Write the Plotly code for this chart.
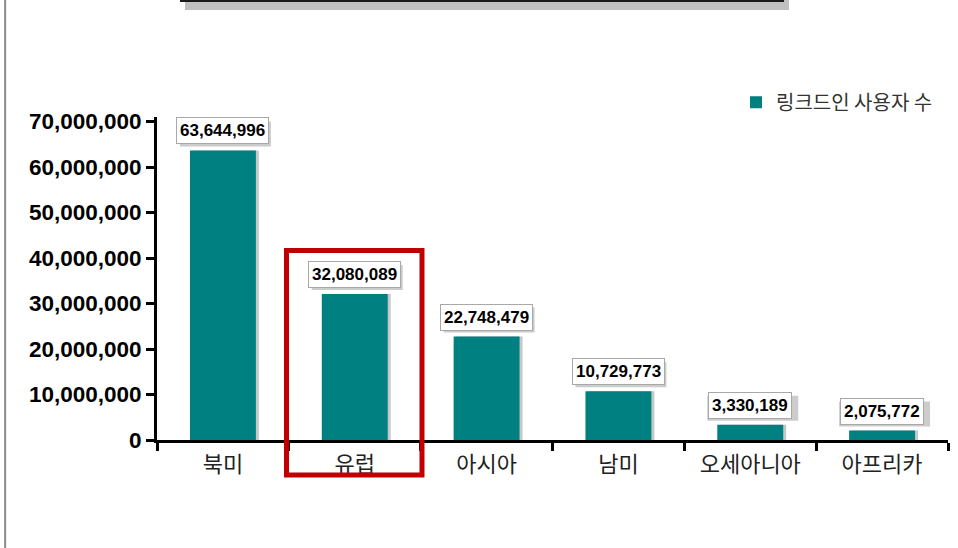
import plotly.graph_objects as go

regions = ["북미", "유럽", "아시아", "남미", "오세아니아", "아프리카"]
users = [63644996, 32080089, 22748479, 10729773, 3330189, 2075772]
series_name = "링크드인 사용자 수"
y_ticks = [0, 10000000, 20000000, 30000000, 40000000, 50000000, 60000000, 70000000]

TEAL = "#008080"
KFONT = "Noto Sans CJK KR"
AFONT = "Liberation Sans, Arial, sans-serif"

fig = go.Figure()

# soft shadow behind bars
fig.add_trace(go.Bar(
    x=regions, y=users, width=0.5, offset=-0.25 + 3 / 131.8,
    marker=dict(color="rgba(0,0,0,0.22)", line=dict(width=0)),
    showlegend=False, hoverinfo="skip",
))
fig.add_trace(go.Bar(
    x=regions, y=users, width=0.5, offset=-0.25,
    name=series_name,
    marker=dict(color=TEAL, line=dict(width=0)),
))

annotations = []
shapes = []
for i, (r, v) in enumerate(zip(regions, users)):
    label = f"{v:,}"
    annotations.append(dict(
        x=r, y=v, xref="x", yref="y", text=label, showarrow=False,
        yanchor="bottom", yshift=6,
        font=dict(family=AFONT, size=17, color="#000", weight="bold"),
        bgcolor="white", bordercolor="#a8a8a8", borderwidth=1, borderpad=3,
    ))
    # drop shadow of the value box (pixel-sized, anchored at the bar top)
    shapes.append(dict(
        type="rect", xref="x", yref="y", layer="above",
        xsizemode="pixel", ysizemode="pixel", xanchor=i, yanchor=v,
        x0=-43, x1=48, y0=4, y1=29,
        fillcolor="#cccccc", line=dict(width=0),
    ))

shapes += [
    dict(type="line", xref="paper", yref="paper", x0=-0.192, x1=-0.192, y0=-0.34, y1=1.37,
         line=dict(color="#8c8c8c", width=2)),
    dict(type="rect", xref="paper", yref="paper", x0=0.0354, x1=0.799, y0=1.331, y1=1.38,
         fillcolor="#c0c0c0", line=dict(width=0), layer="below"),
    dict(type="rect", xref="paper", yref="paper", x0=0.0291, x1=0.7927, y0=1.356, y1=1.38,
         fillcolor="#1a1a1a", line=dict(width=0)),
    dict(type="rect", xref="paper", yref="paper", x0=0.1637, x1=0.335, y0=-0.1084, y1=0.5867,
         line=dict(color="#c00000", width=5), fillcolor="rgba(0,0,0,0)"),
]

fig.update_layout(
    width=958, height=548,
    margin=dict(l=157, r=10, t=117, b=108),
    paper_bgcolor="white", plot_bgcolor="white",
    barmode="overlay",
    showlegend=True,
    legend=dict(x=0.732, y=1.046, xanchor="left", yanchor="middle",
                font=dict(family=KFONT, size=20, color="#333"),
                bgcolor="rgba(0,0,0,0)"),
    annotations=annotations,
    shapes=shapes,
    xaxis=dict(
        type="category", showline=True, linewidth=3, linecolor="black",
        ticks="outside", tickson="boundaries", ticklen=8, tickwidth=3, tickcolor="black",
        showgrid=False, zeroline=False, ticklabelstandoff=3,
        tickfont=dict(family=KFONT, size=22, color="#222"),
    ),
    yaxis=dict(
        range=[0, 71000000], tickvals=y_ticks, tickformat=",",
        showline=True, linewidth=3, linecolor="black",
        ticks="outside", ticklen=8, tickwidth=3, tickcolor="black",
        showgrid=False, zeroline=False,
        tickfont=dict(family=AFONT, size=22.5, color="black", weight="bold"),
    ),
)

fig.write_html("out.html", config={"displayModeBar": False},
               post_script="document.body.style.margin='0';document.body.style.overflow='hidden';")
